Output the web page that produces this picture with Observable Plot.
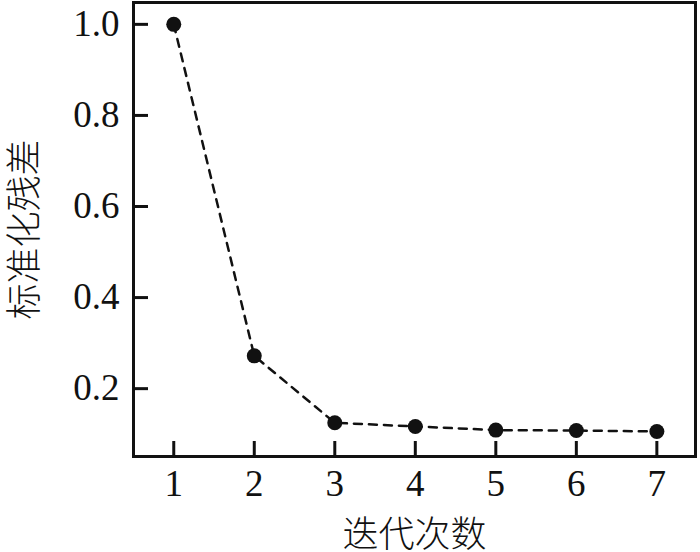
<!DOCTYPE html>
<html>
<head>
<meta charset="utf-8">
<script src="https://cdn.jsdelivr.net/npm/d3@7"></script>
<script src="https://cdn.jsdelivr.net/npm/@observablehq/plot@0.6"></script>
<style>
  html, body { margin: 0; padding: 0; background: #fff; }
  g[aria-label="x-axis label"], g[aria-label="y-axis label"] {
    font-family: "Noto Sans CJK SC", sans-serif;
    font-size: 36px;
    font-weight: 300;
  }
</style>
</head>
<body>
<div id="chart"></div>
<script>
const iterations = [1, 2, 3, 4, 5, 6, 7];
const residuals = [1.0, 0.272, 0.125, 0.117, 0.109, 0.108, 0.106];
const xTicks = [1, 2, 3, 4, 5, 6, 7];
const yTicks = [0.2, 0.4, 0.6, 0.8, 1.0];
const xTitle = "迭代次数";
const yTitle = "标准化残差";

const data = iterations.map((x, i) => ({x, y: residuals[i]}));

const chart = Plot.plot({
  width: 700,
  height: 552,
  marginLeft: 133,
  marginRight: 5,
  marginTop: 2,
  marginBottom: 96,
  style: {fontFamily: "'Liberation Serif', serif", fontSize: "38px", color: "#111", background: "#fff"},
  x: {domain: [0.5, 7.48]},
  y: {domain: [0.051, 1.048]},
  marks: [
    Plot.frame({stroke: "#111", strokeWidth: 3}),
    Plot.axisX({ticks: xTicks, tickSize: -15, tickPadding: 28, strokeWidth: 3, tickFormat: d => String(d), fontSize: 37,
      label: xTitle, labelAnchor: "center", labelArrow: "none", labelOffset: 90}),
    Plot.axisY({ticks: yTicks, tickSize: -15, tickPadding: 29, strokeWidth: 3, tickFormat: d => d.toFixed(1), fontSize: 37,
      label: yTitle, labelAnchor: "center", labelArrow: "none", labelOffset: 122}),
    Plot.line(data, {x: "x", y: "y", stroke: "#111", strokeWidth: 2.5, strokeDasharray: "8,7"}),
    Plot.dot(data, {x: "x", y: "y", r: 7.5, fill: "#111", stroke: "none"})
  ]
});
document.getElementById("chart").appendChild(chart);
</script>
</body>
</html>
